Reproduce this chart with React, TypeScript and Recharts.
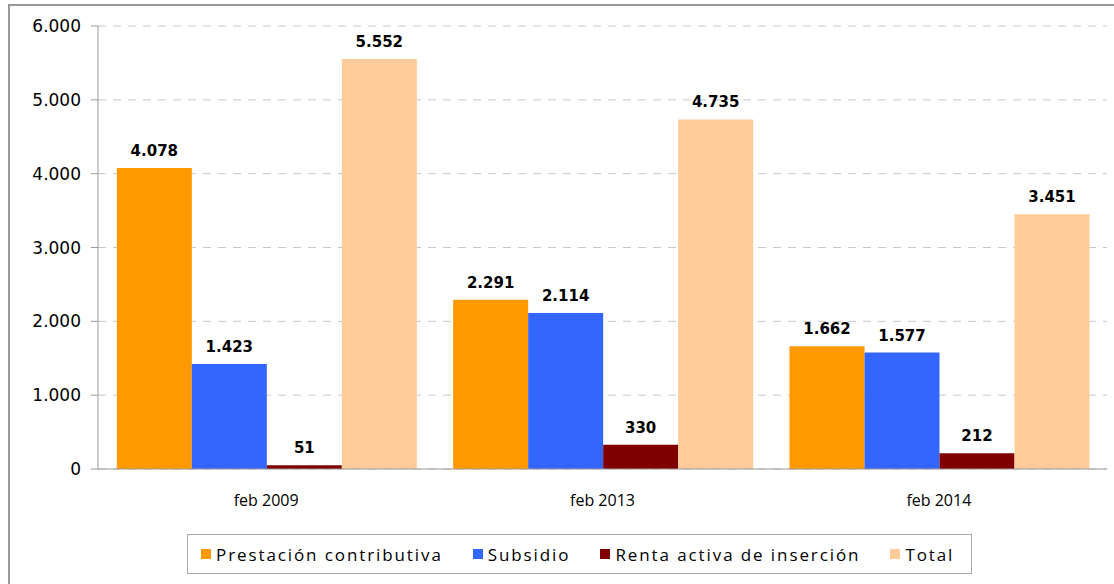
import React from "react";
import { BarChart, Bar, XAxis, YAxis, CartesianGrid, LabelList } from "recharts";

const periods = ["feb 2009", "feb 2013", "feb 2014"];
const prestacion = [4078, 2291, 1662];
const subsidio = [1423, 2114, 1577];
const renta = [51, 330, 212];
const total = [5552, 4735, 3451];
const yTicks = [0, 1000, 2000, 3000, 4000, 5000, 6000];

const SERIES = [
  { key: "prestacion", name: "Prestación contributiva", color: "#FF9900" },
  { key: "subsidio", name: "Subsidio", color: "#3366FF" },
  { key: "renta", name: "Renta activa de inserción", color: "#800000" },
  { key: "total", name: "Total", color: "#FFCC99" },
];

const data = periods.map((p, i) => ({
  period: p,
  prestacion: prestacion[i],
  subsidio: subsidio[i],
  renta: renta[i],
  total: total[i],
}));

const fmt = (v: any) => Number(v).toLocaleString("de-DE");

const LegendBox = () => (
  <div
    style={{
      position: "absolute",
      left: 187,
      top: 534,
      border: "1px solid #aaa",
      width: 785,
      height: 40,
      boxSizing: "border-box",
      display: "flex",
      alignItems: "center",
      paddingLeft: 13,
      fontFamily: "'Open Sans', sans-serif",
      fontSize: 17,
      letterSpacing: 1.9,
      color: "#000",
      background: "#fff",
      whiteSpace: "nowrap",
      overflow: "hidden",
    }}
  >
    {SERIES.map((s) => (
      <div key={s.key} style={{ display: "flex", alignItems: "center", marginRight: 30, flexShrink: 0 }}>
        <span style={{ display: "inline-block", width: 10, height: 10, background: s.color, marginRight: 5 }} />
        <span>{s.name}</span>
      </div>
    ))}
  </div>
);

export default function App() {
  return (
    <div style={{ position: "absolute", left: 0, top: 0, width: 1114, height: 584, background: "#fff", overflow: "hidden" }}>
      <div
        style={{
          position: "absolute",
          left: 8,
          top: 4,
          width: 1120,
          height: 600,
          border: "2px solid #999",
          boxSizing: "border-box",
        }}
      />
      <div style={{ position: "absolute", left: 0, top: 0 }}>
        <BarChart
          width={1114}
          height={584}
          data={data}
          margin={{ top: 26, right: 7, left: 0, bottom: 85 }}
          barGap={0}
          barCategoryGap="5.6%"
        >
          <CartesianGrid vertical={false} stroke="#c8c8c8" strokeDasharray="8 7" />
          <XAxis
            dataKey="period"
            height={30}
            axisLine={{ stroke: "#999" }}
            tickLine={false}
            tickMargin={20}
            tick={{ fill: "#000", fontSize: 16, fontFamily: "'Open Sans', sans-serif" }}
          />
          <YAxis
            width={98}
            domain={[0, 6000]}
            ticks={yTicks}
            tickFormatter={fmt}
            axisLine={{ stroke: "#999" }}
            tickLine={{ stroke: "#999" }}
            tickSize={7}
            tickMargin={10}
            tick={{ fill: "#000", fontSize: 17, fontFamily: "'DejaVu Sans', sans-serif" }}
          />
          {SERIES.map((s) => (
            <Bar key={s.key} dataKey={s.key} name={s.name} fill={s.color} isAnimationActive={false}>
              <LabelList
                dataKey={s.key}
                position="top"
                offset={12}
                formatter={fmt}
                style={{ fill: "#000", fontSize: 15, fontWeight: "bold", fontFamily: "'DejaVu Sans', sans-serif" }}
              />
            </Bar>
          ))}
        </BarChart>
      </div>
      <LegendBox />
    </div>
  );
}
